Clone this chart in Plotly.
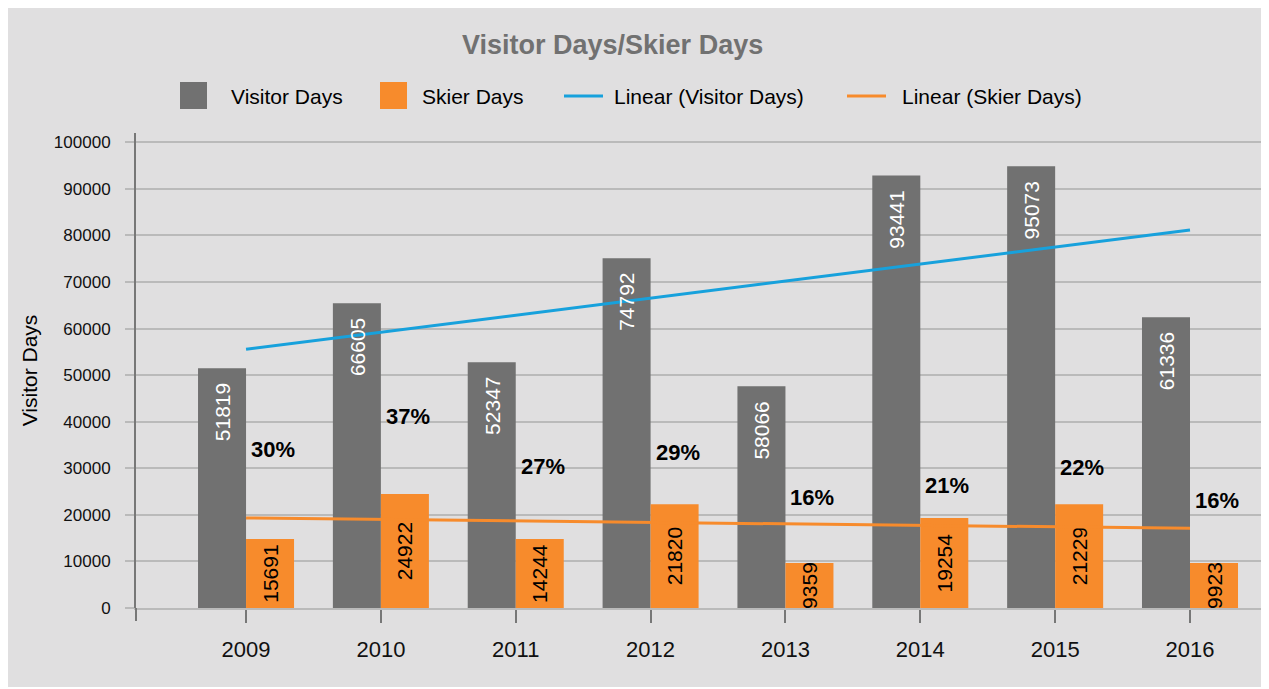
import plotly.graph_objects as go

# ---------------- data ----------------
years = ["2009", "2010", "2011", "2012", "2013", "2014", "2015", "2016"]
visitor_bar = [51500, 65450, 52790, 75100, 47640, 92900, 94850, 62450]
skier_bar = [14800, 24460, 14800, 22300, 9650, 19300, 22300, 9650]
visitor_labels = ["51819", "66605", "52347", "74792", "58066", "93441", "95073", "61336"]
skier_labels = ["15691", "24922", "14244", "21820", "9359", "19254", "21229", "9923"]
pct_labels = ["30%", "37%", "27%", "29%", "16%", "21%", "22%", "16%"]
pct_label_y = [34140, 41230, 30490, 33390, 23730, 26200, 30170, 22980]
visitor_trend = [55560, 81170]   # linear trend, first and last year
skier_trend = [19330, 17120]
y_ticks = [0, 10000, 20000, 30000, 40000, 50000, 60000, 70000, 80000, 90000, 100000]
legend_names = ["Visitor Days", "Skier Days", "Linear (Visitor Days)", "Linear (Skier Days)"]

# ---------------- styles ----------------
GREY = "#717171"
ORANGE = "#f78b2c"
BLUE = "#17a1dc"
BG = "#e0dfe0"
GRID = "#bababa"
AXIS = "#777777"
REG = "Liberation Sans, Arial, sans-serif"

OFF = 8                      # page body margin
W, H = 1269 - OFF, 689 - OFF
L, R, T, B = 128, 2, 125, 81
PW, PH = W - L - R, H - T - B


def px_x(px):
    return (px - OFF - L) / PW


def px_y(py):
    return (H - B - (py - OFF)) / PH


xi = list(range(len(years)))

fig = go.Figure()

fig.add_trace(go.Bar(
    x=xi, y=visitor_bar, name=legend_names[0], marker_color=GREY,
    marker_line_width=0, showlegend=False, hoverinfo="skip",
))
fig.add_trace(go.Bar(
    x=xi, y=skier_bar, name=legend_names[1], marker_color=ORANGE,
    marker_line_width=0, showlegend=False,
    text=skier_labels, textposition="inside", insidetextanchor="middle",
    textangle=-90, textfont=dict(family=REG, size=21, color="#000000"),
    cliponaxis=True,
))
fig.add_trace(go.Scatter(
    x=[xi[0], xi[-1]], y=visitor_trend, mode="lines",
    line=dict(color=BLUE, width=3), name=legend_names[2], showlegend=False,
))
fig.add_trace(go.Scatter(
    x=[xi[0], xi[-1]], y=skier_trend, mode="lines",
    line=dict(color=ORANGE, width=3), name=legend_names[3], showlegend=False,
))

annotations = []
# grey bar value labels (rotated, near top of bar)
for i, h, lab in zip(xi, visitor_bar, visitor_labels):
    annotations.append(dict(
        x=i, y=h, xref="x", yref="y", text=lab, showarrow=False,
        textangle=-90, xanchor="center", yanchor="top", xshift=-24, yshift=-13,
        font=dict(family=REG, size=21, color="#ffffff"),
    ))
# percentage labels
for i, yv, lab in zip(xi, pct_label_y, pct_labels):
    annotations.append(dict(
        x=i, y=yv, xref="x", yref="y", text=lab, showarrow=False,
        xanchor="center", yanchor="middle", xshift=27,
        font=dict(family=REG, size=22, color="#000000", weight="bold"),
    ))
# title
annotations.append(dict(
    x=px_x(612), y=px_y(45), xref="paper", yref="paper",
    text="Visitor Days/Skier Days", showarrow=False,
    xanchor="center", yanchor="middle",
    font=dict(family=REG, size=27, color=GREY, weight="bold"),
))

shapes = [
    # grey card background
    dict(type="rect", xref="paper", yref="paper", layer="below",
         x0=px_x(6), x1=px_x(1268), y0=px_y(687), y1=px_y(7),
         fillcolor=BG, line=dict(width=0)),
    # y-axis extension below zero
    dict(type="line", xref="paper", yref="paper",
         x0=0, x1=0, y0=0, y1=px_y(621), line=dict(color=AXIS, width=2)),
]

# manual legend
leg_y = 96
legend_items = [
    ("box", GREY, 180, 229, legend_names[0]),
    ("box", ORANGE, 380, 420, legend_names[1]),
    ("line", BLUE, 564, 612, legend_names[2]),
    ("line", ORANGE, 847, 900, legend_names[3]),
]
for kind, col, sx, tx, name in legend_items:
    if kind == "box":
        shapes.append(dict(type="rect", xref="paper", yref="paper",
                           x0=px_x(sx), x1=px_x(sx + 27),
                           y0=px_y(leg_y + 13), y1=px_y(leg_y - 14),
                           fillcolor=col, line=dict(width=0)))
    else:
        shapes.append(dict(type="line", xref="paper", yref="paper",
                           x0=px_x(sx), x1=px_x(sx + 39),
                           y0=px_y(leg_y), y1=px_y(leg_y),
                           line=dict(color=col, width=3)))
    annotations.append(dict(
        x=px_x(tx), y=px_y(leg_y), xref="paper", yref="paper", text=name,
        showarrow=False, xanchor="left", yanchor="middle",
        font=dict(family=REG, size=21, color="#000000"),
    ))

fig.update_layout(
    width=W, height=H,
    margin=dict(l=L, r=R, t=T, b=B, pad=0),
    paper_bgcolor="#ffffff",
    plot_bgcolor="rgba(0,0,0,0)",
    barmode="group", bargap=0.288, bargroupgap=0,
    uniformtext=dict(minsize=21, mode="show"),
    showlegend=False,
    annotations=annotations,
    shapes=shapes,
    xaxis=dict(
        range=[-0.816, 7.571], tickvals=xi, ticktext=years,
        showgrid=False, zeroline=False,
        showline=True, linecolor=GRID, linewidth=2,
        ticks="outside", ticklen=13, tickwidth=2, tickcolor=AXIS,
        tickfont=dict(family=REG, size=22, color="#111111"),
        ticklabelstandoff=8,
    ),
    yaxis=dict(
        range=[0, 102000], tickvals=y_ticks, tickformat="d",
        showgrid=True, gridcolor=GRID, gridwidth=2,
        zeroline=False,
        showline=True, linecolor=AXIS, linewidth=2,
        ticks="outside", ticklen=9, tickwidth=2, tickcolor=GRID,
        tickfont=dict(family=REG, size=17, color="#111111"),
        ticklabelstandoff=11,
        title=dict(text="Visitor Days", standoff=11,
                   font=dict(family=REG, size=21, color="#000000")),
    ),
)

fig.write_html("out.html")
